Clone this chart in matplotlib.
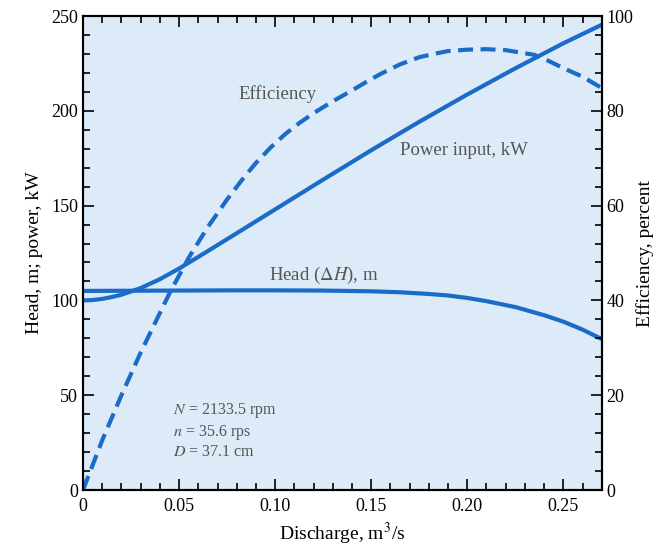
import numpy as np
import matplotlib
matplotlib.use('Agg')
import matplotlib.pyplot as plt
from matplotlib.ticker import MultipleLocator

plt.rcParams['font.family'] = 'Liberation Serif'
plt.rcParams['mathtext.fontset'] = 'stix'

# Pump performance curves
q_head = [0.0, 0.025, 0.05, 0.075, 0.10, 0.125, 0.15, 0.165, 0.18, 0.19, 0.20, 0.21, 0.225, 0.24, 0.25, 0.26, 0.27]
head = [105.0, 105.1, 105.2, 105.3, 105.3, 105.2, 104.8, 104.3, 103.4, 102.6, 101.3, 99.6, 96.5, 92.2, 88.8, 84.6, 79.6]

q_power = [0.0, 0.005, 0.01, 0.015, 0.02, 0.03, 0.04, 0.05, 0.0625, 0.075, 0.10, 0.125, 0.15, 0.175, 0.20, 0.225, 0.25, 0.27]
power = [100.0, 100.2, 100.8, 101.8, 103.0, 106.5, 111.2, 116.8, 124.5, 132.3, 148.0, 163.7, 179.2, 194.2, 208.6, 222.4, 235.6, 245.4]

q_eff = [0.0, 0.01, 0.02, 0.03, 0.045, 0.055, 0.065, 0.075, 0.0825, 0.09, 0.0975, 0.105, 0.1125, 0.12, 0.13,
         0.14, 0.1475, 0.155, 0.165, 0.175, 0.1825, 0.19, 0.20, 0.21, 0.22, 0.235, 0.2425, 0.25, 0.26, 0.265, 0.27]
eff = [0.0, 10.5, 20.0, 29.0, 41.5, 49.0, 55.5, 61.3, 65.3, 69.0, 72.2, 75.0, 77.4, 79.5, 82.0,
       84.3, 86.1, 87.8, 89.8, 91.3, 92.0, 92.6, 92.9, 93.0, 92.8, 91.8, 90.5, 89.0, 87.2, 86.0, 84.8]

blue = '#1a6cc8'
gray = '#555555'

fig = plt.figure(figsize=(6.62, 5.48), dpi=100)
ax = fig.add_axes([0.1254, 0.1058, 0.7836, 0.865])
ax.set_facecolor('#dcebf7')
ax2 = ax.twinx()

ax.plot(q_head, head, color=blue, lw=3, solid_capstyle='butt')
ax.plot(q_power, power, color=blue, lw=3, solid_capstyle='butt')
ax2.plot(q_eff, eff, color=blue, lw=3, dashes=(3.6, 1.8))

ax.set_xlim(0, 0.27)
ax.set_ylim(0, 250)
ax2.set_ylim(0, 100)

ax.xaxis.set_major_locator(MultipleLocator(0.05))
ax.xaxis.set_minor_locator(MultipleLocator(0.01))
ax.yaxis.set_major_locator(MultipleLocator(50))
ax.yaxis.set_minor_locator(MultipleLocator(10))
ax2.yaxis.set_major_locator(MultipleLocator(20))
ax2.yaxis.set_minor_locator(MultipleLocator(4))

ax.set_xticks([0, 0.05, 0.10, 0.15, 0.20, 0.25])
ax.set_xticklabels(['0', '0.05', '0.10', '0.15', '0.20', '0.25'])

ax.tick_params(which='both', direction='in', top=True, labelsize=13, width=1.2)
ax.tick_params(which='major', length=8)
ax.tick_params(which='minor', length=5)
ax.tick_params(axis='x', pad=6)
ax2.tick_params(which='both', direction='in', labelsize=13, width=1.2)
ax2.tick_params(which='major', length=8)
ax2.tick_params(which='minor', length=5)

for a in (ax, ax2):
    for s in a.spines.values():
        s.set_linewidth(1.5)

ax.set_xlabel('Discharge, m$^3$/s', fontsize=14, labelpad=4)
ax.set_ylabel('Head, m; power, kW', fontsize=14, labelpad=6)
ax2.set_ylabel('Efficiency, percent', fontsize=14, rotation=90, labelpad=2)

# curve labels
ax.text(0.081, 209, 'Efficiency', fontsize=13.5, color=gray, va='center')
ax.text(0.165, 179, 'Power input, kW', fontsize=13.5, color=gray, va='center')
ax.text(0.097, 113, r'Head ($\Delta H$), m', fontsize=13.5, color=gray, va='center')

ax.text(0.047, 42, '$N$ = 2133.5 rpm', fontsize=11.5, color=gray, va='center')
ax.text(0.047, 30.5, '$n$ = 35.6 rps', fontsize=11.5, color=gray, va='center')
ax.text(0.047, 20, '$D$ = 37.1 cm', fontsize=11.5, color=gray, va='center')

fig.savefig('out.png', dpi=100)
